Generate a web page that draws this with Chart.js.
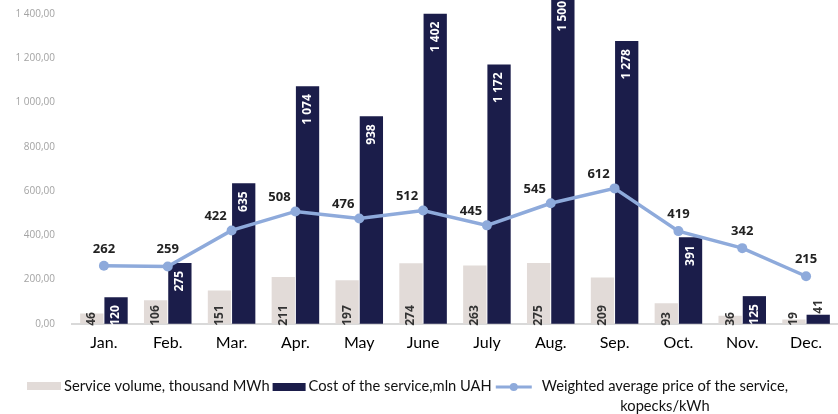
<!DOCTYPE html>
<html>
<head>
<meta charset="utf-8">
<script src="https://cdn.jsdelivr.net/npm/chart.js@4.4.1/dist/chart.umd.min.js"></script>
<style>
  html, body { margin: 0; padding: 0; background: #fff; overflow: hidden; }
  #wrap { width: 843px; height: 414px; }
</style>
</head>
<body>
<div id="wrap"><canvas id="myChart" width="843" height="414"></canvas></div>
<script>
// chart data
const months = ['Jan.', 'Feb.', 'Mar.', 'Apr.', 'May', 'June', 'July', 'Aug.', 'Sep.', 'Oct.', 'Nov.', 'Dec.'];
const volume = [46, 106, 151, 211, 197, 274, 263, 275, 209, 93, 36, 19];
const cost = [120, 275, 635, 1074, 938, 1402, 1172, 1500, 1278, 391, 125, 41];
const price = [262, 259, 422, 508, 476, 512, 445, 545, 612, 419, 342, 215];
const yTicks = [0, 200, 400, 600, 800, 1000, 1200, 1400];

const GRAY = '#e2dbd8';
const NAVY = '#1b1d4a';
const BLUE = '#8eaadb';

//number with space as thousands separator
function fmt(v) {
  if (v >= 1000) return Math.floor(v / 1000) + ' ' + String(v % 1000).padStart(3, '0');
  return String(v);
}

//value labels on bars and points
const valueLabels = {
  id: 'valueLabels',
  afterDatasetsDraw(chart) {
    const ctx = chart.ctx;
    const volMeta = chart.getDatasetMeta(0);
    const costMeta = chart.getDatasetMeta(1);
    const priceMeta = chart.getDatasetMeta(2);
    ctx.save();
    ctx.font = 'bold 12px "Open Sans"';
    ctx.textBaseline = 'middle';

    volMeta.data.forEach(function (bar, i) {
      ctx.save();
      ctx.translate(bar.x, bar.base + 2);
      ctx.rotate(-Math.PI / 2);
      ctx.textAlign = 'left';
      ctx.fillStyle = '#333';
      ctx.fillText(fmt(volume[i]), 0, 0);
      ctx.restore();
    });

    costMeta.data.forEach(function (bar, i) {
      ctx.save();
      if (bar.base - bar.y >= 20) {
        // keep the label of the clipped bar on the canvas
        ctx.translate(bar.x, Math.max(bar.y + 8, 1));
        ctx.rotate(-Math.PI / 2);
        ctx.textAlign = 'right';
        ctx.fillStyle = '#fff';
      } else {
        ctx.translate(bar.x, bar.y - 1);
        ctx.rotate(-Math.PI / 2);
        ctx.textAlign = 'left';
        ctx.fillStyle = '#333';
      }
      ctx.fillText(fmt(cost[i]), 0, 0);
      ctx.restore();
    });

    ctx.font = 'bold 13px "Open Sans"';
    ctx.textAlign = 'center';
    ctx.fillStyle = '#222';
    priceMeta.data.forEach(function (pt, i) {
      const costTop = costMeta.data[i].y;
      if (costTop < pt.y - 5) {
        ctx.fillText(fmt(price[i]), pt.x - 16, pt.y - 14);
      } else {
        ctx.fillText(fmt(price[i]), pt.x, pt.y - 17);
      }
    });
    ctx.restore();
  }
};

//legend at the bottom, last item wraps on two lines
const bottomLegend = {
  id: 'bottomLegend',
  afterDraw(chart) {
    const ctx = chart.ctx;
    const ds = chart.data.datasets;
    const y = 386;
    ctx.save();
    ctx.font = '14.7px Lato';
    ctx.textBaseline = 'middle';
    ctx.textAlign = 'left';
    let x = 27;

    ctx.fillStyle = ds[0].backgroundColor;
    ctx.fillRect(x, y - 4, 34, 8);
    x += 37;
    ctx.fillStyle = '#111';
    ctx.fillText(ds[0].label, x, y);
    x += ctx.measureText(ds[0].label).width + 3;

    ctx.fillStyle = ds[1].backgroundColor;
    ctx.fillRect(x, y - 3, 33, 8);
    x += 36;
    ctx.fillStyle = '#111';
    ctx.fillText(ds[1].label, x, y);
    x += ctx.measureText(ds[1].label).width + 4;

    ctx.strokeStyle = ds[2].borderColor;
    ctx.lineWidth = 3;
    ctx.beginPath();
    ctx.moveTo(x, y + 1);
    ctx.lineTo(x + 36, y + 1);
    ctx.stroke();
    ctx.fillStyle = ds[2].borderColor;
    ctx.beginPath();
    ctx.arc(x + 18, y + 1, 4, 0, Math.PI * 2);
    ctx.fill();
    x += 46;

    const lines = ds[2].label;
    const w = ctx.measureText(lines[0]).width;
    ctx.fillStyle = '#111';
    ctx.fillText(lines[0], x, y);
    ctx.textAlign = 'center';
    ctx.fillText(lines[1], x + w / 2, y + 20);
    ctx.restore();
  }
};

function drawChart() {
  let ctx = document.getElementById('myChart');
  new Chart(ctx, {
    type: 'bar',
    data: {
      labels: months,
      datasets: [{
        type: 'bar',
        label: 'Service volume, thousand MWh',
        data: volume,
        backgroundColor: GRAY,
        categoryPercentage: 0.76,
        barPercentage: 0.96,
        order: 1
      }, {
        type: 'bar',
        label: 'Cost of the service,mln UAH',
        data: cost,
        backgroundColor: NAVY,
        categoryPercentage: 0.76,
        barPercentage: 0.96,
        clip: false,
        order: 2
      }, {
        type: 'line',
        label: ['Weighted average price of the service,', 'kopecks/kWh'],
        data: price,
        borderColor: BLUE,
        backgroundColor: BLUE,
        borderWidth: 3.5,
        pointRadius: 5,
        pointBackgroundColor: BLUE,
        pointBorderWidth: 0,
        tension: 0,
        order: 0
      }]
    },
    options: {
      responsive: false,
      animation: false,
      devicePixelRatio: 1,
      layout: { padding: { left: 0, right: 2, top: 0, bottom: 53 } },
      plugins: {
        legend: { display: false },
        tooltip: { enabled: false }
      },
      scales: {
        x: {
          grid: { display: false, drawTicks: false },
          border: { display: true, color: '#d9d9d9', width: 2 },
          ticks: { color: '#000', font: { family: 'Lato', size: 16 }, padding: 9 }
        },
        y: {
          min: 0,
          max: 1441,
          afterBuildTicks: function (scale) {
            scale.ticks = yTicks.map(function (v) { return { value: v }; });
          },
          afterFit: function (scale) {
            scale.width = 72;
            scale.paddingTop = 0;
            scale.paddingBottom = 0;
          },
          grid: { display: false, drawTicks: false },
          border: { display: false },
          ticks: {
            color: '#a3a3a3',
            font: { family: 'Open Sans', size: 10 },
            padding: 17,
            callback: function (v) { return fmt(v) + ',00'; }
          }
        }
      }
    },
    plugins: [valueLabels, bottomLegend]
  });
}
drawChart();
</script>
</body>
</html>
